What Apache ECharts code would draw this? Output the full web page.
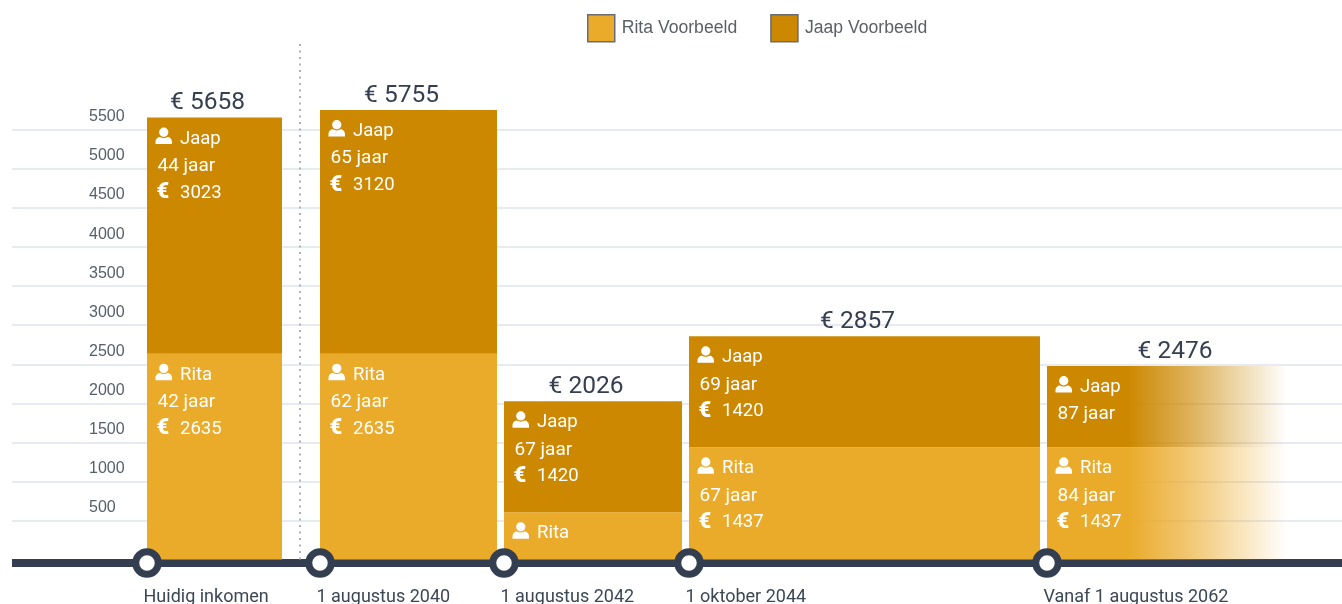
<!DOCTYPE html>
<html><head><meta charset="utf-8">
<style>html,body{margin:0;padding:0;background:#fff}#c{width:1342px;height:604px}</style>
<script src="https://cdn.jsdelivr.net/npm/echarts@6/dist/echarts.min.js"></script>
</head><body><div id="c"></div>
<script>
const categories = ['Huidig inkomen','1 augustus 2040','1 augustus 2042','1 oktober 2044','Vanaf 1 augustus 2062'];
const periodStart = [14.7, 32.0, 50.4, 68.9, 104.7];
const periodEnd   = [28.2, 49.7, 68.2, 104.0, 131.7];
const ritaValues = [2635, 2635, 606, 1437, 1437];
const jaapValues = [3023, 3120, 1420, 1420, 1039];
const totals     = [5658, 5755, 2026, 2857, 2476];
const ritaAges   = [42, 62, null, 67, 84];
const jaapAges   = [44, 65, 67, 69, 87];
const ritaAmounts = [2635, 2635, null, 1437, 1437];
const jaapAmounts = [3023, 3120, 1420, 1420, null];
const separatorX = 30.0;
const separatorTop = 6650;
const RITA = '#eaaa2a', JAAP = '#cc8800';
const FONT = 'Roboto, sans-serif';
const PERSON = 'M8 0a4.5 4.5 0 1 1 0 9a4.5 4.5 0 1 1 0-9Z M0 16v-2.2c0-2.8 2.2-4.8 4.4-4.8c1 .7 2.4 1.1 3.6 1.1s2.6-.4 3.6-1.1c2.2 0 4.4 2 4.4 4.8V16Z';

function segmentRenderer(name, color, ages, amounts, withTotal) {
  return function (params, api) {
    const i = params.dataIndex;
    const tl = api.coord([api.value(0), api.value(3)]);
    const br = api.coord([api.value(1), api.value(2)]);
    const x = tl[0], y = tl[1], w = br[0] - tl[0], h = br[1] - tl[1];
    const rgb = echarts.color.parse(color);
    const base = 'rgba(' + rgb[0] + ',' + rgb[1] + ',' + rgb[2] + ',';
    const fill = i === categories.length - 1 ? {
      type: 'linear', x: 0, y: 0, x2: 1, y2: 0,
      colorStops: [
        { offset: 0, color: base + '1)' }, { offset: 0.3, color: base + '1)' },
        { offset: 0.55, color: base + '0.62)' }, { offset: 0.889, color: base + '0)' }, { offset: 1, color: base + '0)' }
      ]
    } : color;
    const txt = (t, tx, ty, extra) => ({ type: 'text', z2: 5, style: Object.assign({
      text: t, x: tx, y: ty, fill: '#fff', font: '400 18.5px ' + FONT, textAlign: 'left', textVerticalAlign: 'middle' }, extra || {}) });
    const children = [{ type: 'rect', shape: { x, y, width: w, height: h }, style: { fill } }];
    children.push({ type: 'path', z2: 5, shape: { pathData: PERSON, x: x + 8.5, y: y + 10, width: 16.5, height: 16.5 }, style: { fill: '#fff' } });
    children.push(txt(name, x + 33, y + 21.5));
    if (ages[i] != null) children.push(txt(ages[i] + ' jaar', x + 10.5, y + 48.5, { font: '400 19px ' + FONT }));
    if (amounts[i] != null) {
      children.push(txt('€', x + 9.5, y + 75, { font: '900 22px ' + FONT }));
      children.push(txt(String(amounts[i]), x + 33, y + 75.5));
    }
    if (withTotal) {
      children.push(txt('€ ' + totals[i], x + w / 2 - 7, y - 14.5, { fill: '#353f4f', font: '400 24.5px ' + FONT, textAlign: 'center' }));
    }
    return { type: 'group', children };
  };
}

const ritaData = categories.map((c, i) => [periodStart[i], periodEnd[i], 0, ritaValues[i]]);
const jaapData = categories.map((c, i) => [periodStart[i], periodEnd[i], ritaValues[i], ritaValues[i] + jaapValues[i]]);

const chart = echarts.init(document.getElementById('c'), null, { renderer: 'canvas' });
chart.setOption({
  animation: false,
  backgroundColor: '#fff',
  legend: {
    data: ['Rita Voorbeeld', 'Jaap Voorbeeld'], left: 587, top: 14, icon: 'rect', padding: 0,
    itemWidth: 27, itemHeight: 27, itemGap: 33,
    itemStyle: { borderColor: '#666c74', borderWidth: 1.5 },
    textStyle: { color: '#5b5f66', fontFamily: 'Liberation Sans', fontSize: 17.6, padding: [3, 0, 0, 2] }
  },
  grid: { left: 12, right: 0, top: 90.9, bottom: 44.5 },
  xAxis: {
    type: 'value', min: 1.2, max: 134.2, position: 'bottom', offset: 3.5,
    axisLine: { onZero: false, show: true, lineStyle: { color: '#333f50', width: 8, cap: 'butt' } },
    axisTick: { show: false }, axisLabel: { show: false }, splitLine: { show: false }
  },
  yAxis: {
    type: 'value', min: 0, max: 6000, interval: 500,
    axisLine: { show: false }, axisTick: { show: false },
    splitLine: { show: true, showMinLine: false, showMaxLine: false, lineStyle: { color: '#e7eaf0', width: 2 } },
    axisLabel: {
      inside: true, margin: 77, align: 'left', verticalAlign: 'bottom', padding: [0, 0, 5, 0],
      showMinLabel: false, showMaxLabel: false, formatter: v => String(v),
      color: '#565e6b', fontFamily: 'Liberation Sans', fontSize: 16
    }
  },
  series: [
    { type: 'custom', name: 'separator', silent: true, z: 1, clip: false,
      data: [[separatorX, 0, separatorTop]], encode: { x: 0, y: [1, 2] },
      renderItem: (p, api) => {
        const a = api.coord([api.value(0), api.value(1)]), b = api.coord([api.value(0), api.value(2)]);
        return { type: 'line', shape: { x1: a[0], y1: a[1], x2: b[0], y2: b[1] },
          style: { stroke: '#aeb2b9', lineWidth: 2, lineDash: [2, 4.5] } };
      } },
    { type: 'custom', name: 'Rita Voorbeeld', z: 2, clip: false, itemStyle: { color: RITA },
      data: ritaData, encode: { x: [0, 1], y: [2, 3] },
      renderItem: segmentRenderer('Rita', RITA, ritaAges, ritaAmounts, false) },
    { type: 'custom', name: 'Jaap Voorbeeld', z: 2, clip: false, itemStyle: { color: JAAP },
      data: jaapData, encode: { x: [0, 1], y: [2, 3] },
      renderItem: segmentRenderer('Jaap', JAAP, jaapAges, jaapAmounts, true) },
    { type: 'scatter', name: 'periods', z: 5, clip: false, silent: true,
      symbol: 'circle', symbolSize: 22.5, symbolOffset: [0, 3.5],
      itemStyle: { color: '#fff', borderColor: '#333f50', borderWidth: 7, opacity: 1 },
      data: periodStart.map((s, i) => [s, 0, categories[i]]),
      label: {
        show: true, position: 'bottom', align: 'left', offset: [-3.5, 6],
        formatter: p => p.value[2],
        color: '#3c4756', fontFamily: FONT, fontSize: 18
      } }
  ]
});
</script></body></html>
